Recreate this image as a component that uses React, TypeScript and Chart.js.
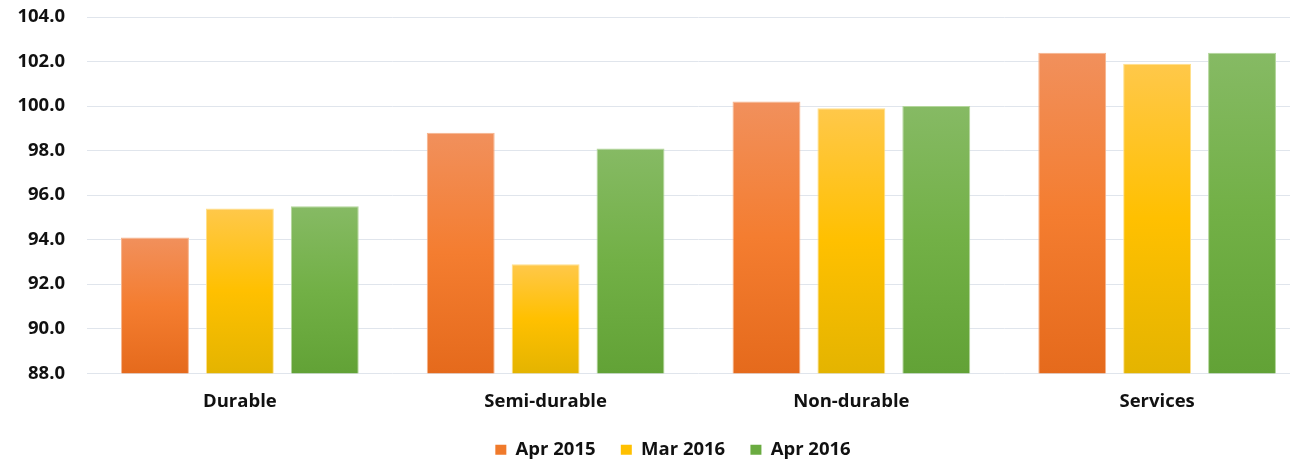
import React, { useEffect, useRef } from "react";
import { Chart, registerables } from "chart.js";

Chart.register(...registerables);

const categories = ["Durable", "Semi-durable", "Non-durable", "Services"];
const seriesNames = ["Apr 2015", "Mar 2016", "Apr 2016"];
const apr2015 = [94.1, 98.8, 100.2, 102.4];
const mar2016 = [95.4, 92.9, 99.9, 101.9];
const apr2016 = [95.5, 98.1, 100.0, 102.4];
const yTicks = [88, 90, 92, 94, 96, 98, 100, 102, 104];

const palettes = [
  { light: "#F1905C", mid: "#F47D30", dark: "#E56A1C", solid: "#F07A2B", border: "#F6B48C" },
  { light: "#FFC84A", mid: "#FFC000", dark: "#E4B400", solid: "#FFC000", border: "#FFE08A" },
  { light: "#86BA64", mid: "#72B046", dark: "#62A236", solid: "#6AAB40", border: "#B3D69B" },
];

const FONT = "'Open Sans', 'Noto Sans', sans-serif";
const FS = 18.5;
const W = 1346;
const H = 461;

export default function App() {
  const ref = useRef<HTMLCanvasElement | null>(null);

  useEffect(() => {
    if (!ref.current) return;
    const makeBg = (p: any) => (ctx: any) => {
      const chart = ctx.chart;
      const area = chart.chartArea;
      const y = chart.scales?.y;
      if (!area || !y || ctx.raw == null) return p.solid;
      const top = y.getPixelForValue(ctx.raw);
      const bottom = area.bottom;
      if (!isFinite(top) || bottom - top < 1) return p.solid;
      const g = chart.ctx.createLinearGradient(0, top, 0, bottom);
      g.addColorStop(0, p.light);
      g.addColorStop(0.5, p.mid);
      g.addColorStop(1, p.dark);
      return g;
    };
    const data = [apr2015, mar2016, apr2016];
    const chart = new Chart(ref.current, {
      type: "bar",
      data: {
        labels: categories,
        datasets: data.map((d, i) => ({
          label: seriesNames[i],
          data: d,
          backgroundColor: makeBg(palettes[i]),
          borderColor: palettes[i].border,
          borderWidth: 1,
          categoryPercentage: 0.833,
          barPercentage: 0.8,
          yAxisID: "y",
        })),
      },
      options: {
        animation: false,
        responsive: false,
        maintainAspectRatio: false,
        layout: { padding: { top: 17, right: 0, left: 0, bottom: -8 } },
        plugins: {
          legend: {
            position: "bottom",
            labels: {
              boxWidth: 11,
              boxHeight: 10,
              padding: 11,
              color: "#111",
              font: { family: FONT, size: FS, weight: "bold" },
              generateLabels: (c: any) =>
                seriesNames.map((n, i) => ({
                  text: i < seriesNames.length - 1 ? n + "  \u2005" : n,
                  fillStyle: palettes[i].solid,
                  strokeStyle: palettes[i].solid,
                  lineWidth: 0,
                  hidden: false,
                  datasetIndex: i,
                  fontColor: "#111",
                })),
            },
          },
          tooltip: { enabled: false },
        },
        scales: {
          x: {
            grid: { display: false, drawTicks: false },
            border: { display: false },
            ticks: {
              padding: 17,
              color: "#111",
              font: { family: FONT, size: FS, weight: "bold" },
            },
          },
          y: {
            min: 88,
            max: 104,
            afterFit: (s: any) => {
              s.width = 87;
            },
            afterBuildTicks: (s: any) => {
              s.ticks = yTicks.map((v) => ({ value: v }));
            },
            grid: {
              color: "#E0E5EC",
              lineWidth: 1,
              drawTicks: true,
              tickLength: 22,
              tickColor: "rgba(0,0,0,0)",
            },
            border: { display: false },
            ticks: {
              padding: 0,
              color: "#111",
              font: { family: FONT, size: FS, weight: "bold" },
              callback: (v: any) => Number(v).toFixed(1),
            },
          },
          y2: {
            position: "right",
            display: true,
            min: 0,
            max: 1,
            grid: { display: false, drawTicks: false },
            border: { display: false },
            ticks: { display: false },
            afterFit: (s: any) => {
              s.width = 36;
            },
          },
        },
      },
    });
    return () => chart.destroy();
  }, []);

  return (
    <div style={{ position: "fixed", left: 0, top: 0, width: W, height: H, background: "#fff" }}>
      <canvas ref={ref} width={W} height={H} style={{ display: "block", width: W, height: H }} />
    </div>
  );
}
